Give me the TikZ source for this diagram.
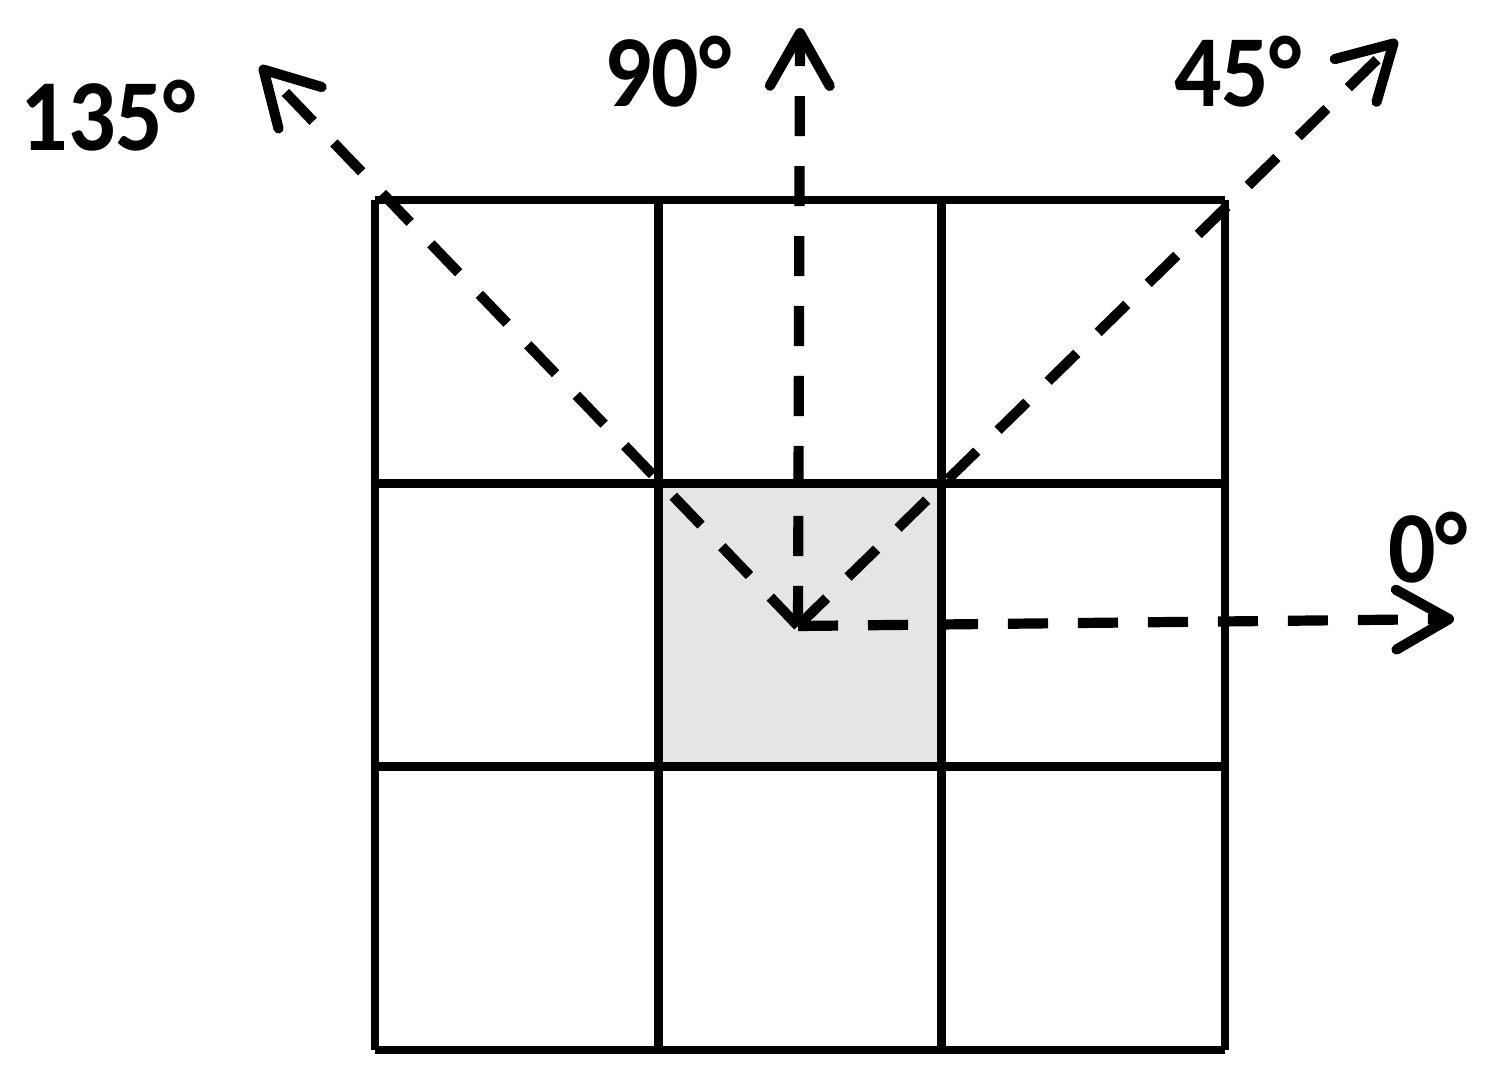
\documentclass[tikz,border=0pt]{standalone}
\usepackage{fontspec}
\setmainfont{Carlito}
\usetikzlibrary{arrows.meta}

\tikzset{
  cellline/.style={line width=2.4pt},
  ray/.style={line width=2.9pt, dash pattern=on 11.4pt off 8.5pt,
    -{Straight Barb[length=15pt,width=17pt,round]}},
  anglelabel/.style={font=\bfseries\fontsize{29}{29}\selectfont, inner sep=0pt}
}
\newcommand{\angletext}[1]{\scalebox{0.92}[1]{#1}}

\begin{document}
\begin{tikzpicture}[x=0.01cm,y=-0.01cm]
    \useasboundingbox (0,0) rectangle (1504,1088);

    % centre cell
    \fill[black!10] (658,484) rectangle (941,767);

    % 3x3 grid
    \foreach \k in {0,1,2,3}{
        \draw[cellline] (375+283.33*\k,200) -- (375+283.33*\k,1050);
        \draw[cellline] (375,200+283.33*\k) -- (1225,200+283.33*\k);
    }

    \coordinate (o) at (798,626);
    \coordinate (t0) at (1454,619);
    \coordinate (t45) at (1397,40);
    \coordinate (t90) at (800,28);
    \coordinate (t135) at (260,66);

    \draw[ray] (o) -- (t0);
    \draw[ray] (o) -- (t45);
    \draw[ray] (o) -- (t90);
    \draw[ray] (o) -- (t135);

    \node[anglelabel] (l0) at (1428,548) {\angletext{0°}};
    \node[anglelabel] (l45) at (1238,72) {\angletext{45°}};
    \node[anglelabel] (l90) at (668,72) {\angletext{90°}};
    \node[anglelabel] (l135) at (108,116) {\angletext{135°}};
\end{tikzpicture}
\end{document}
